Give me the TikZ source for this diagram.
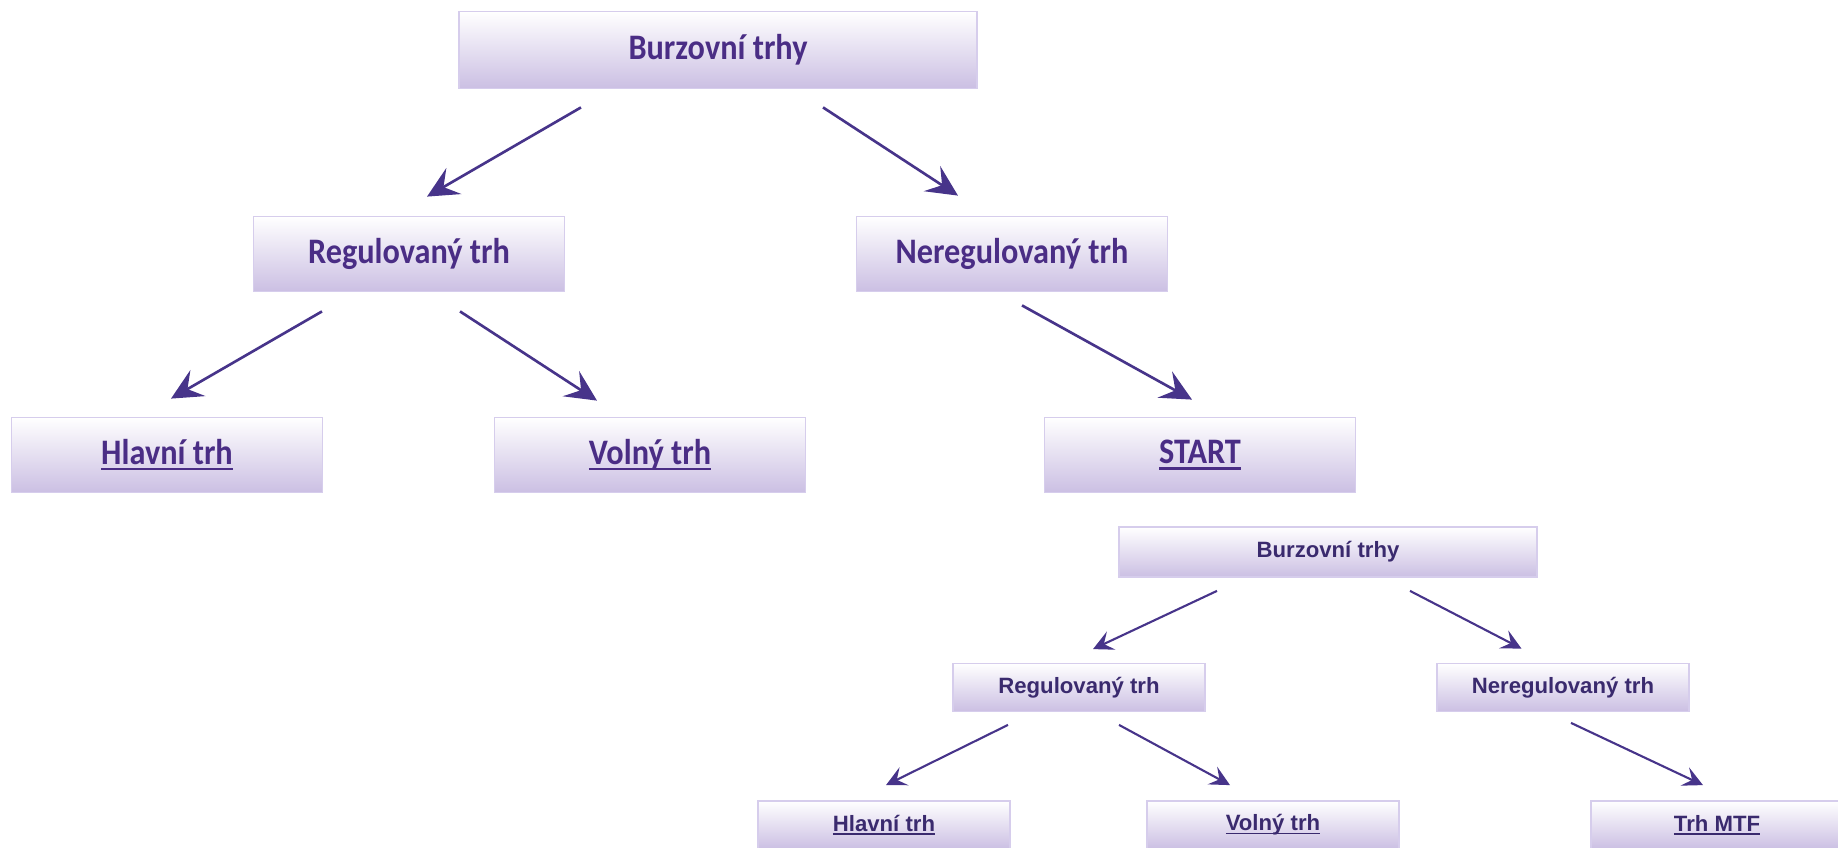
\documentclass[tikz,border=0pt]{standalone}
\usepackage{fontspec}
\usepackage[HTML]{xcolor}
\usetikzlibrary{arrows.meta}
\newfontfamily\bigfont[FakeStretch=0.9]{Carlito}
\newfontfamily\minifont{Liberation Sans}
\definecolor{boxlav}{HTML}{CBBFE3}
\definecolor{boxedge}{HTML}{D6CDEC}
\definecolor{txtbig}{HTML}{4A2D85}
\definecolor{txtmini}{HTML}{3A2A6E}
\definecolor{arrcol}{HTML}{47348A}
\newcommand\ulink[1]{\setbox0=\hbox{#1}\rlap{\rule[-0.16em]{\wd0}{0.07em}}\box0}

\begin{document}
\begin{tikzpicture}[x=0.01cm, y=-0.01cm,
  box/.style={draw=boxedge, line width=0.5pt, top color=white, bottom color=boxlav, text=txtbig, inner sep=0pt,
    minimum width=3.11cm, minimum height=0.75cm, font=\bigfont\bfseries\fontsize{10.2}{12}\selectfont},
  minibox/.style={box, minimum width=2.52cm, minimum height=0.48cm, text=txtmini,
    font=\minifont\bfseries\fontsize{6.3}{7.5}\selectfont},
  arr/.style={arrcol, line width=0.75pt, -{Stealth[length=0.31cm, width=0.3cm, inset=0.12cm]}},
  miniarr/.style={arrcol, line width=0.6pt, -{Stealth[length=0.2cm, width=0.2cm, inset=0.08cm]}}]
\useasboundingbox (0,0) rectangle (1838,848);

% large tree
\node[box, minimum width=5.17cm, minimum height=0.77cm] (burza) at (718,50) {Burzovní trhy};
\node[box] (reg)    at (409,254)  {Regulovaný trh};
\node[box] (nereg)  at (1012,254) {Neregulovaný trh};
\node[box] (hlavni) at (167,455)  {\ulink{Hlavní trh}};
\node[box] (volny)  at (650,455)  {\ulink{Volný trh}};
\node[box] (start)  at (1200,455) {\ulink{START}};

\draw[arr] ([shift={(-137,18)}]burza.south) -- ([shift={(18,-19)}]reg.north);
\draw[arr] ([shift={(105,18)}]burza.south)  -- ([shift={(-54,-20)}]nereg.north);
\draw[arr] ([shift={(-87,19)}]reg.south)    -- ([shift={(4,-18)}]hlavni.north);
\draw[arr] ([shift={(51,19)}]reg.south)     -- ([shift={(-53,-16)}]volny.north);
\draw[arr] ([shift={(10,13)}]nereg.south)   -- ([shift={(-8,-17)}]start.north);

% small tree
\node[minibox, minimum width=4.18cm, minimum height=0.5cm] (burza2) at (1328,552) {Burzovní trhy};
\node[minibox] (reg2)    at (1079,687.5) {Regulovaný trh};
\node[minibox] (nereg2)  at (1563,687.5) {Neregulovaný trh};
\node[minibox] (hlavni2) at (884,825)    {\ulink{Hlavní trh}};
\node[minibox] (volny2)  at (1273,825)   {\ulink{Volný trh}};
\node[minibox] (mtf)     at (1717,825)   {\ulink{Trh MTF}};

\draw[miniarr] ([shift={(-111,13)}]burza2.south) -- ([shift={(14,-13.5)}]reg2.north);
\draw[miniarr] ([shift={(82,13)}]burza2.south)   -- ([shift={(-41.5,-14)}]nereg2.north);
\draw[miniarr] ([shift={(-71,12.5)}]reg2.south)  -- ([shift={(2,-15)}]hlavni2.north);
\draw[miniarr] ([shift={(40,12.5)}]reg2.south)   -- ([shift={(-43,-15)}]volny2.north);
\draw[miniarr] ([shift={(8,10.5)}]nereg2.south)  -- ([shift={(-14,-15)}]mtf.north);
\end{tikzpicture}
\end{document}
